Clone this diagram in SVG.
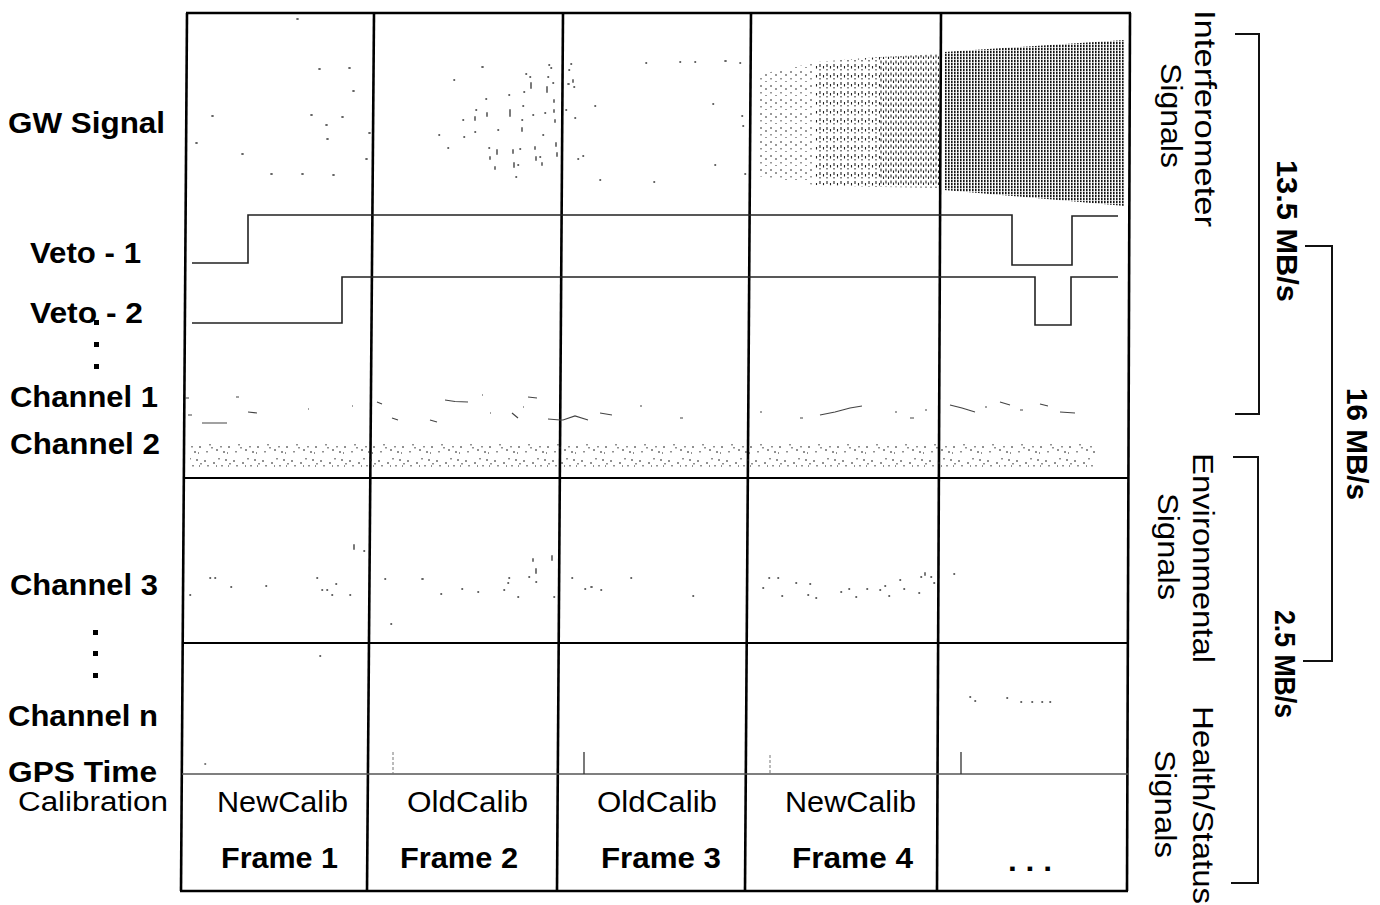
<svg xmlns="http://www.w3.org/2000/svg" width="1380" height="905" viewBox="0 0 1380 905">
<style>
.lb{font-family:"Liberation Sans",Arial,Helvetica,sans-serif;font-weight:bold;font-size:29px;fill:#000}
.lr{font-family:"Liberation Sans",Arial,Helvetica,sans-serif;font-size:29px;fill:#000}
.grid{stroke:#000;fill:none;stroke-width:2.6}
.row{stroke:#000;fill:none;stroke-width:2}
.veto{stroke:#222;fill:none;stroke-width:1.6}
.br{stroke:#111;fill:none;stroke-width:2}
.dots{stroke:#333;fill:none;stroke-width:1.3;stroke-linecap:square}
.frag{stroke:#444;fill:none;stroke-width:1.2}
</style>
<defs>
<pattern id="pSparse" width="10" height="14" patternUnits="userSpaceOnUse"><path d="M1,1v2M1,8v1.5M6,4v2M6,11v1" stroke="#333" stroke-width="1" fill="none"/></pattern>
<pattern id="pMed" width="7" height="9" patternUnits="userSpaceOnUse"><path d="M1,1v3M1,6v1.5M4.5,3v2.5" stroke="#222" stroke-width="1.1" fill="none"/></pattern>
<pattern id="pMed2" width="5" height="6" patternUnits="userSpaceOnUse"><path d="M1,0.5v3M3.5,2.5v2.5" stroke="#222" stroke-width="1.1" fill="none"/></pattern>
<pattern id="pDense" width="3" height="3" patternUnits="userSpaceOnUse"><rect x="0" y="0" width="1.6" height="2.3" fill="#151515"/></pattern>
<pattern id="pNoise" width="29" height="24" patternUnits="userSpaceOnUse"><path d="M2,4v2M7,12v1.5M11,6v2M14,17v2M19,9v1.5M23,3v2M26,14v2M4,19v1.5M16,2v1.5M21,19v2M9,15v1.5M27,7v1.5M13,10h1M24,21h1M5,9v1.5M18,14v1.5M25,10h1" stroke="#222" stroke-width="1" fill="none"/></pattern>
</defs>
<rect width="1380" height="905" fill="#fff"/>

<g id="grid">
<path class="grid" d="M186,13H1131"/>
<path class="grid" d="M187,13L181,891"/>
<path class="grid" d="M374,13L367,891"/>
<path class="grid" d="M563,13L557,891"/>
<path class="grid" d="M751,13L745,891"/>
<path class="grid" d="M941,13L937,891"/>
<path class="grid" d="M1130,13L1127,891"/>
<path class="grid" d="M180,891H1128"/>
<path class="row" d="M185,478H1129"/>
<path class="row" d="M183,643H1128"/>
<path stroke="#555" stroke-width="1.3" fill="none" d="M182,774H1128"/>
</g>

<g id="gw-signal">
<path class="dots" d="M212,116h1M196,143h1M242,154h1M319,69h1M349,68h1M353,91h1M311,115h1M342,117h1M326,125h1M327,139h1M271,174h1M302,174h1M333,175h1M369,133h1M366,159h1M297,19h1"/>
<path class="dots" d="M482,67h1M454,80h0.5M486,99h0.5M476,110h0.5M475,117v3M487,113v3M463,120h0.5M439,135h0.5M448,148h0.5M464,137h0.5M475,132h0.5M498,130h0.5M509,95h0.5M510,110v6M523,106h0.5M522,120h0.5M522,128v3M524,92h0.5M526,74h0.5M530,77h0.5M531,83v5M533,115h0.5M543,135h0.5M545,113h0.5M547,87v5M548,77h0.5M549,65h0.5M551,68h0.5M553,83h0.5M554,100v2M554,110v2M555,120v2M556,143v3M557,153v3M489,148h0.5M497,150v4M490,157v2M495,167v2M513,150v3M514,163v4M516,177h0.5M518,165h0.5M520,149h0.5M535,147v2M536,157v3M540,157h0.5M542,163v2"/>
<path class="dots" d="M571,64h0.5M569,70h0.5M573,80v2M568,84h1M574,87h0.5M566,110h0.5M595,106h0.5M575,118h0.5M578,159h0.5M583,156h0.5M600,180h0.5M654,182h0.5M646,63h0.5M680,62h0.5M695,62h0.5M725,61h1M740,63h0.5M713,104h0.5M742,116h0.5M743,126h0.5M715,165h0.5M745,174h0.5"/>
<polygon points="757,75 815,62 815,185 757,176" fill="url(#pSparse)"/>
<polygon points="815,62 880,57 880,187 815,185" fill="url(#pMed)"/>
<polygon points="880,57 940,54 940,188 880,187" fill="url(#pMed2)"/>
<polygon points="944,52 1125,40 1125,206 944,190" fill="url(#pDense)"/>
</g>

<g id="veto-1"><path class="veto" d="M192,263H248V215H1012V265H1072V216H1118"/></g>
<g id="veto-2"><path class="veto" d="M192,323H342V277H1035V325H1071V277H1118"/></g>

<g id="channel-1">
<path class="frag" d="M185,398h4M236,397h3M188,415h4M202,423h25M248,412l9,1M308,409h1M352,406h1M377,402l5,2M445,400l10,1.5l13,0.5M482,395h1M528,397l9,1M523,407h1M392,418l6,2M430,420l7,2M490,413h1M512,413l6,5M548,419l12,1l3,0l12,-4l13,4M600,413l12,2M640,406h2M680,418h3M760,412h2M800,418h3M820,415l15,-3l15,-4l12,-2M895,412h2M910,418h4M925,410h2M950,405l12,3l13,4M985,407h2M1000,402l10,3M1020,410h3M1040,404l8,2M1060,412l15,1"/>
</g>

<g id="channel-2">
<rect x="190" y="443" width="905" height="24" fill="url(#pNoise)"/>
</g>

<g id="channel-3">
<path class="dots" d="M190,595h0.5M210,578h0.5M215,578h0.5M231,587h0.5M266,586h0.5M317,578h0.5M322,590h0.5M327,590h0.5M336,584h0.5M332,595h0.5M350,595h0.5M354,545v4M364,551h0.5M385,579h0.5M391,624h0.5M422,579h1M441,594h0.5M462,589h0.5M478,592h0.5M504,590h0.5M508,583h0.5M509,578h0.5M518,597h0.5M529,577h0.5M533,559v2M536,569v4M536,582h0.5M552,556v4M554,597h0.5M572,578h0.5M585,589h0.5M591,587h1M601,590h0.5M631,578h0.5M693,596h0.5M763,588h0.5M769,578h0.5M778,578h0.5M782,596h0.5M796,583h0.5M810,584h0.5M808,595h0.5M816,598h0.5M841,592h0.5M849,589h0.5M856,597h0.5M867,589h0.5M880,590h0.5M885,586h0.5M889,596h0.5M900,580h0.5M904,589h0.5M919,593h0.5M921,577h0.5M925,573v2M931,577h0.5M934,583h0.5M954,574h0.5"/>
</g>

<g id="channel-n">
<path class="dots" d="M320,656h0.5M970,697h0.5M975,701h0.5M1007,698h0.5M1021,702h0.5M1032,702h0.5M1042,702h0.5M1050,702h0.5"/>
</g>

<g id="gps-time">
<path stroke="#777" stroke-width="1" fill="none" stroke-dasharray="3 2" d="M393,752V774M770,755V774"/>
<path stroke="#333" stroke-width="1.3" fill="none" d="M584,752V774M961,752V774"/>
<path class="dots" d="M205,764h0.5"/>
</g>

<g id="row-labels">
<text class="lb" x="8" y="133" textLength="157" lengthAdjust="spacingAndGlyphs">GW Signal</text>
<text class="lb" x="30" y="263" textLength="111" lengthAdjust="spacingAndGlyphs">Veto - 1</text>
<text class="lb" x="30" y="323" textLength="113" lengthAdjust="spacingAndGlyphs">Veto - 2</text>
<rect x="94" y="320" width="5" height="5"/>
<rect x="94" y="342" width="5" height="5"/>
<rect x="94" y="364" width="5" height="5"/>
<text class="lb" x="10" y="407" textLength="148" lengthAdjust="spacingAndGlyphs">Channel 1</text>
<text class="lb" x="10" y="454" textLength="150" lengthAdjust="spacingAndGlyphs">Channel 2</text>
<text class="lb" x="10" y="595" textLength="148" lengthAdjust="spacingAndGlyphs">Channel 3</text>
<rect x="93" y="630" width="5" height="5"/>
<rect x="93" y="651" width="5" height="5"/>
<rect x="93" y="673" width="5" height="5"/>
<text class="lb" x="8" y="726" textLength="150" lengthAdjust="spacingAndGlyphs">Channel n</text>
<text class="lb" x="8" y="782" textLength="149" lengthAdjust="spacingAndGlyphs">GPS Time</text>
<text class="lr" x="18" y="811" style="font-size:27px" textLength="150" lengthAdjust="spacingAndGlyphs">Calibration</text>
</g>

<g id="frame-labels">
<text class="lr" x="217" y="812" textLength="131" lengthAdjust="spacingAndGlyphs">NewCalib</text>
<text class="lr" x="407" y="812" textLength="121" lengthAdjust="spacingAndGlyphs">OldCalib</text>
<text class="lr" x="597" y="812" textLength="120" lengthAdjust="spacingAndGlyphs">OldCalib</text>
<text class="lr" x="785" y="812" textLength="131" lengthAdjust="spacingAndGlyphs">NewCalib</text>
<text class="lb" x="221" y="868" textLength="117" lengthAdjust="spacingAndGlyphs">Frame 1</text>
<text class="lb" x="400" y="868" textLength="118" lengthAdjust="spacingAndGlyphs">Frame 2</text>
<text class="lb" x="601" y="868" textLength="120" lengthAdjust="spacingAndGlyphs">Frame 3</text>
<text class="lb" x="792" y="868" textLength="121" lengthAdjust="spacingAndGlyphs">Frame 4</text>
<text class="lb" x="1008" y="871" textLength="44" lengthAdjust="spacingAndGlyphs">. . .</text>
</g>

<g id="brackets">
<path class="br" d="M1235,34H1259V414H1235"/>
<path class="br" d="M1305,246H1332V661H1303"/>
<path class="br" d="M1233,457H1258V883H1231"/>
</g>

<g id="side-labels">
<text class="lr" transform="translate(1195,0) rotate(90)" x="10" y="0" textLength="217" lengthAdjust="spacingAndGlyphs">Interferometer</text>
<text class="lr" transform="translate(1161,0) rotate(90)" x="63" y="0" textLength="105" lengthAdjust="spacingAndGlyphs">Signals</text>
<text class="lb" transform="translate(1277,0) rotate(90)" x="160" y="0" textLength="142" lengthAdjust="spacingAndGlyphs">13.5 MB/s</text>
<text class="lb" transform="translate(1347,0) rotate(90)" x="388" y="0" textLength="112" lengthAdjust="spacingAndGlyphs">16 MB/s</text>
<text class="lr" transform="translate(1193,0) rotate(90)" x="453" y="0" textLength="210" lengthAdjust="spacingAndGlyphs">Environmental</text>
<text class="lr" transform="translate(1158,0) rotate(90)" x="493" y="0" textLength="107" lengthAdjust="spacingAndGlyphs">Signals</text>
<text class="lb" transform="translate(1275,0) rotate(90)" x="610" y="0" textLength="108" lengthAdjust="spacingAndGlyphs">2.5 MB/s</text>
<text class="lr" transform="translate(1193,0) rotate(90)" x="706" y="0" textLength="198" lengthAdjust="spacingAndGlyphs">Health/Status</text>
<text class="lr" transform="translate(1155,0) rotate(90)" x="750" y="0" textLength="108" lengthAdjust="spacingAndGlyphs">Signals</text>
</g>
</svg>
